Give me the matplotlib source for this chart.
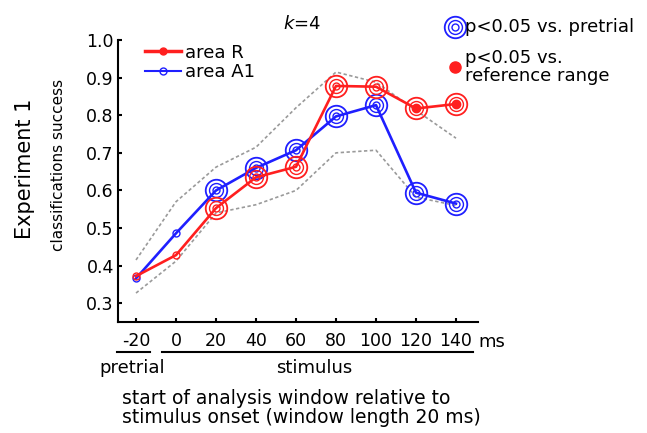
import numpy as np
import matplotlib
matplotlib.use("Agg")
import matplotlib.pyplot as plt
from matplotlib.lines import Line2D
import matplotlib.transforms as mtransforms

plt.rcParams['font.family'] = ['DejaVu Sans']

# data
t = [-20, 0, 20, 40, 60, 80, 100, 120, 140]
area_r = [0.372, 0.428, 0.553, 0.635, 0.663, 0.878, 0.876, 0.818, 0.830]
area_a1 = [0.366, 0.486, 0.600, 0.660, 0.707, 0.797, 0.827, 0.594, 0.565]
ref_hi = [0.415, 0.570, 0.662, 0.715, 0.820, 0.915, 0.888, 0.813, 0.739]
ref_lo = [0.327, 0.412, 0.540, 0.562, 0.600, 0.700, 0.707, 0.582, 0.560]
sig_pre_r = [False, False, True, True, True, True, True, True, True]
sig_pre_a1 = [False, False, True, True, True, True, True, True, True]
sig_ref_r = [False, False, False, False, False, False, False, True, True]
xticks = [-20, 0, 20, 40, 60, 80, 100, 120, 140]
yticks = [0.3, 0.4, 0.5, 0.6, 0.7, 0.8, 0.9, 1.0]

fig = plt.figure(figsize=(6.47, 4.33), dpi=100)
ax = fig.add_axes([0.1824, 0.2564, 0.5564, 0.651])

# reference range
ax.plot(t, ref_hi, color='#9a9a9a', ls=(0, (2, 1.5)), lw=1.2)
ax.plot(t, ref_lo, color='#9a9a9a', ls=(0, (2, 1.5)), lw=1.2)

def draw_series(y, col, sig_pre, sig_ref=None):
    ax.plot(t, y, color=col, lw=1.9, marker='o', ms=5, mfc='none', mew=1.0)
    xs = [x for x, s in zip(t, sig_pre) if s]
    ys = [v for v, s in zip(y, sig_pre) if s]
    ax.plot(xs, ys, ls='none', marker='o', ms=10, mfc='none', mec=col, mew=1.0)
    ax.plot(xs, ys, ls='none', marker='o', ms=15.5, mfc='none', mec=col, mew=1.3)
    if sig_ref is not None:
        xs = [x for x, s in zip(t, sig_ref) if s]
        ys = [v for v, s in zip(y, sig_ref) if s]
        ax.plot(xs, ys, ls='none', marker='o', ms=6, mfc=col, mec=col)

draw_series(area_a1, '#1f1fff', sig_pre_a1)
draw_series(area_r, '#ff1f1f', sig_pre_r, sig_ref_r)

fs = 12.5
ax.set_xlim(-29, 151)
ax.set_ylim(0.25, 1.0)
ax.set_xticks(xticks)
ax.set_yticks(yticks)
ax.set_yticklabels([f'{v:.1f}' for v in yticks], fontsize=fs)
ax.set_xticklabels([str(v) for v in xticks], fontsize=fs)
ax.tick_params(direction='in', length=3, width=1.5, pad=3)
ax.tick_params(axis='x', pad=7)
for s in ['top', 'right']:
    ax.spines[s].set_visible(False)
for s in ['left', 'bottom']:
    ax.spines[s].set_linewidth(1.5)

ax.set_title('$k$=4', fontsize=13, pad=8, x=0.51)

handles = [Line2D([], [], color='#ff1f1f', lw=2.5, marker='o', ms=5, mfc='#ff1f1f'),
           Line2D([], [], color='#1f1fff', lw=1.5, marker='o', ms=5, mfc='none')]
ax.legend(handles, ['area R', 'area A1'], loc='upper left', bbox_to_anchor=(0.03, 1.045),
          frameon=False, fontsize=13, handlelength=2.0, handletextpad=0.2, labelspacing=0.1)

# y labels
fig.text(0.038, 0.61, 'Experiment 1', rotation=90, fontsize=15, ha='center', va='center')
fig.text(0.091, 0.62, 'classifications success', rotation=90, fontsize=11, ha='center', va='center')

# x-axis annotations
trans = mtransforms.blended_transform_factory(ax.transData, ax.transAxes)
ax.text(151, -0.07, 'ms', transform=trans, fontsize=13, ha='left', va='center')
ax.plot([-29.5, -13], [-0.107, -0.107], transform=trans, color='k', lw=1.5, clip_on=False)
ax.plot([-7, 148.5], [-0.107, -0.107], transform=trans, color='k', lw=1.5, clip_on=False)
ax.text(-22, -0.165, 'pretrial', transform=trans, fontsize=13, ha='center', va='center')
ax.text(69, -0.165, 'stimulus', transform=trans, fontsize=13, ha='center', va='center')
fig.text(0.189, 0.058, 'start of analysis window relative to\nstimulus onset (window length 20 ms)',
         fontsize=13.5, ha='left', va='center', linespacing=1.05)

# significance key
kx, ky1, ky2 = 0.703, 0.938, 0.845
fig.add_artist(Line2D([kx], [ky1], marker='o', ms=15.5, mfc='none', mec='#1f1fff', mew=1.3, ls='none', transform=fig.transFigure))
fig.add_artist(Line2D([kx], [ky1], marker='o', ms=10, mfc='none', mec='#1f1fff', mew=1.0, ls='none', transform=fig.transFigure))
fig.add_artist(Line2D([kx], [ky1], marker='o', ms=5, mfc='none', mec='#1f1fff', mew=1.0, ls='none', transform=fig.transFigure))
fig.add_artist(Line2D([kx], [ky2], marker='o', ms=8, mfc='#ff1f1f', mec='#ff1f1f', ls='none', transform=fig.transFigure))
fig.text(0.718, ky1, 'p<0.05 vs. pretrial', fontsize=13, ha='left', va='center')
fig.text(0.718, ky2, 'p<0.05 vs.\nreference range', fontsize=13, ha='left', va='center', linespacing=1.05)

fig.savefig('out.png', dpi=100)
